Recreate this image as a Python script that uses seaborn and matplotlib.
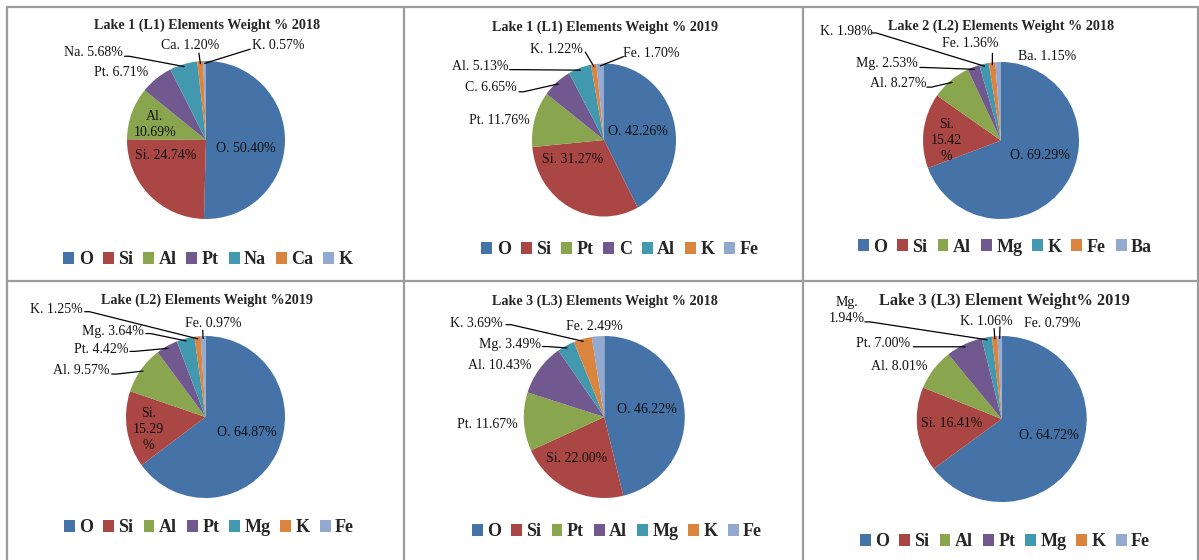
import numpy as np
import matplotlib
matplotlib.use("Agg")
import matplotlib.pyplot as plt
from matplotlib.lines import Line2D
from matplotlib.patches import Patch
import seaborn as sns

# ---- data -------------------------------------------------------------
l1_2018_elements = ["O", "Si", "Al", "Pt", "Na", "Ca", "K"]
l1_2018_values = [50.40, 24.74, 10.69, 6.71, 5.68, 1.20, 0.57]

l1_2019_elements = ["O", "Si", "Pt", "C", "Al", "K", "Fe"]
l1_2019_values = [42.26, 31.27, 11.76, 6.65, 5.13, 1.22, 1.70]

l2_2018_elements = ["O", "Si", "Al", "Mg", "K", "Fe", "Ba"]
l2_2018_values = [69.29, 15.42, 8.27, 2.53, 1.98, 1.36, 1.15]

l2_2019_elements = ["O", "Si", "Al", "Pt", "Mg", "K", "Fe"]
l2_2019_values = [64.87, 15.29, 9.57, 4.42, 3.64, 1.25, 0.97]

l3_2018_elements = ["O", "Si", "Pt", "Al", "Mg", "K", "Fe"]
l3_2018_values = [46.22, 22.00, 11.67, 10.43, 3.49, 3.69, 2.49]

l3_2019_elements = ["O", "Si", "Al", "Pt", "Mg", "K", "Fe"]
l3_2019_values = [64.72, 16.41, 8.01, 7.00, 1.94, 1.06, 0.79]

titles = [
    "Lake 1 (L1) Elements Weight % 2018",
    "Lake 1 (L1) Elements Weight % 2019",
    "Lake 2 (L2) Elements Weight % 2018",
    "Lake (L2) Elements Weight %2019",
    "Lake 3 (L3) Elements Weight % 2018",
    "Lake 3 (L3) Element Weight% 2019",
]

# ---- style ------------------------------------------------------------
sns.set_style("white")
plt.rcParams["font.family"] = ["Liberation Serif", "DejaVu Serif"]
palette = sns.color_palette(["#4572A7", "#AA4643", "#89A54E", "#71588F",
                             "#4198AF", "#DB843D", "#93A9CF"])

W, H = 1199, 560
fig = plt.figure(figsize=(W / 100, H / 100), dpi=100)
fig.patch.set_facecolor("white")

# panel geometry in pixels: pie centre, radii, title, legend
panels = [
    dict(el=l1_2018_elements, val=l1_2018_values, c=(206, 140), r=(79, 79),
         title=(207, 25, 10.2), leg=(208, 260)),
    dict(el=l1_2019_elements, val=l1_2019_values, c=(604, 140), r=(72, 76.5),
         title=(605, 27, 10.2), leg=(620, 250)),
    dict(el=l2_2018_elements, val=l2_2018_values, c=(1001, 140.5), r=(78, 78.5),
         title=(1001, 26, 10.2), leg=(1005, 247)),
    dict(el=l2_2019_elements, val=l2_2019_values, c=(205.5, 417), r=(79.5, 81),
         title=(207, 300, 10.2), leg=(209, 528)),
    dict(el=l3_2018_elements, val=l3_2018_values, c=(604.3, 417), r=(80.5, 81),
         title=(605, 301, 10.2), leg=(617, 532)),
    dict(el=l3_2019_elements, val=l3_2019_values, c=(1001.7, 419), r=(85, 83),
         title=(1004, 301, 11.8), leg=(1005, 542)),
]

# label placement per slice (pie radius units): x, y, leader start, line layout
layouts = [
    [(0.51, -0.11, None, 1), (-0.51, -0.19, None, 1), (-0.65, 0.20, None, 2),
     (-1.07, 0.86, None, 1), (-1.43, 1.11, (-1.03, 1.06), 1),
     (-0.20, 1.19, (-0.09, 1.10), 1), (0.91, 1.20, (0.56, 1.15), 1)],
    [(0.47, 0.11, None, 1), (-0.43, -0.25, None, 1), (-1.46, 0.26, None, 1),
     (-1.57, 0.68, (-1.18, 0.63), 1), (-1.72, 0.96, (-1.31, 0.92), 1),
     (-0.66, 1.18, (-0.26, 1.15), 1), (0.66, 1.13, (0.27, 1.09), 1)],
    [(0.50, -0.185, None, 1), (-0.70, 0.0, None, 3),
     (-1.32, 0.73, (-0.95, 0.68), 1), (-1.46, 0.98, (-1.04, 0.93), 1),
     (-1.98, 1.39, (-1.66, 1.37), 1), (-0.40, 1.24, (-0.11, 1.11), 1),
     (0.59, 1.07, None, 1)],
    [(0.52, -0.19, None, 1), (-0.72, -0.16, None, 3),
     (-1.56, 0.58, (-1.18, 0.53), 1), (-1.31, 0.83, (-0.95, 0.81), 1),
     (-1.16, 1.06, (-0.75, 1.03), 1), (-1.87, 1.33, (-1.52, 1.30), 1),
     (0.10, 1.16, (-0.035, 1.07), 1)],
    [(0.53, 0.09, None, 1), (-0.34, -0.51, None, 1), (-1.45, -0.09, None, 1),
     (-1.30, 0.63, None, 1), (-1.17, 0.90, (-0.77, 0.87), 1),
     (-1.59, 1.16, (-1.22, 1.14), 1), (-0.12, 1.12, None, 1)],
    [(0.55, -0.20, None, 1), (-0.59, -0.05, None, 1), (-1.20, 0.63, None, 1),
     (-1.39, 0.91, (-1.04, 0.87), 1), (-1.82, 1.31, (-1.61, 1.17), 2),
     (-0.18, 1.17, (-0.09, 1.09), 1), (0.59, 1.15, (-0.02, 1.11), 1)],
]


def label_text(name, value, lines):
    if lines == 2:
        return f"{name}.\n{value:.2f}%"
    if lines == 3:
        return f"{name}.\n{value:.2f}\n%"
    return f"{name}. {value:.2f}%"


for k, (p, lay) in enumerate(zip(panels, layouts)):
    cx, cy = p["c"]
    rx, ry = p["r"]
    ax = fig.add_axes([(cx - rx) / W, 1 - (cy + ry) / H, 2 * rx / W, 2 * ry / H])
    vals = np.array(p["val"], dtype=float)
    ax.pie(vals, colors=palette[:len(vals)], startangle=90, counterclock=False,
           radius=1, wedgeprops=dict(linewidth=0))
    ax.set_aspect("auto")
    ax.set_xlim(-1, 1)
    ax.set_ylim(-1, 1)
    ax.axis("off")

    frac = vals / vals.sum()
    mids = (np.cumsum(frac) - frac / 2) * 2 * np.pi
    for i, (x, y, lead, lines) in enumerate(lay):
        ax.text(x, y, label_text(p["el"][i], vals[i], lines), ha="center",
                va="center", fontsize=10, color="#111111", linespacing=1.3)
        if lead is not None:
            ex, ey = np.sin(mids[i]) * 0.97, np.cos(mids[i]) * 0.97
            sx, sy = lead
            pts_x, pts_y = [sx], [sy]
            if ex - sx > 0.3:
                pts_x.append(sx + 0.06)
                pts_y.append(sy)
            pts_x.append(ex)
            pts_y.append(ey)
            ax.plot(pts_x, pts_y, color="black", lw=0.9, clip_on=False)

    tx, ty, tfs = p["title"]
    fig.text(tx / W, 1 - ty / H, titles[k], ha="center", va="center",
             fontsize=tfs, fontweight="bold",
             family=["Liberation Serif", "DejaVu Serif"])

    handles = [Patch(facecolor=palette[i], edgecolor="none")
               for i in range(len(vals))]
    lx, ly = p["leg"]
    fig.legend(handles, p["el"], loc="center", bbox_to_anchor=(lx / W, 1 - ly / H),
               ncol=len(vals), frameon=False, handlelength=0.6, handleheight=0.6,
               handletextpad=0.25, columnspacing=0.55,
               prop=dict(size=13, weight="bold"))

# grid of panel borders
grid = "#9c9c9c"
for x0, y0, x1, y1 in [(7, 7, 1198, 7), (7, 281, 1198, 281),
                       (7, 7, 7, 560), (1198, 7, 1198, 560),
                       (404, 7, 404, 560), (803, 7, 803, 560)]:
    fig.add_artist(Line2D([x0 / W, x1 / W], [1 - y0 / H, 1 - y1 / H],
                          color=grid, lw=1.6, transform=fig.transFigure))

fig.savefig("out.png", dpi=100)
